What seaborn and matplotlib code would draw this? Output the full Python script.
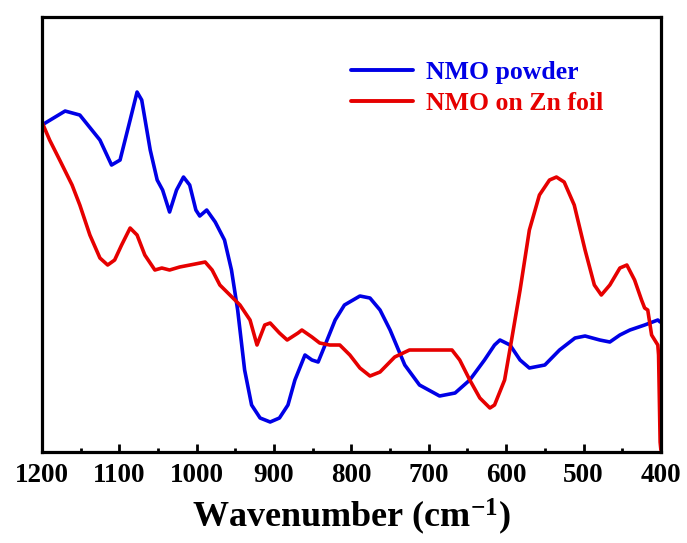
import numpy as np
import pandas as pd
import matplotlib
matplotlib.use("Agg")
import matplotlib.pyplot as plt
import seaborn as sns
from matplotlib.ticker import MultipleLocator

# Wavenumber (cm^-1) and relative transmittance (arbitrary units)
powder_wn = [1200, 1170, 1151, 1125, 1110, 1099, 1086, 1077, 1071, 1060, 1051, 1044, 1035, 1026,
             1017, 1009, 1001, 996, 987, 976, 964, 955, 947, 938, 929, 918, 905, 893, 882, 873,
             860, 851, 843, 834, 821, 809, 789, 776, 763, 750, 731, 712, 686, 666, 647, 628,
             615, 608, 595, 582, 570, 550, 531, 511, 498, 479, 466, 453, 440, 421, 404, 401]
powder_t = [327, 341, 337, 312, 287, 292, 332, 360, 352, 302, 272, 262, 240, 262,
            275, 267, 242, 236, 242, 230, 212, 182, 142, 82, 47, 34, 30, 34, 47, 72,
            97, 92, 90, 107, 132, 147, 156, 154, 142, 122, 87, 67, 56, 59, 72, 92,
            107, 112, 107, 92, 84, 87, 102, 114, 116, 112, 110, 117, 122, 127, 132, 130]

zn_wn = [1200, 1190, 1177, 1161, 1151, 1138, 1125, 1115, 1106, 1097, 1086, 1077, 1067, 1054,
         1045, 1035, 1022, 1002, 989, 980, 970, 957, 944, 931, 922, 912, 905, 893, 883, 869,
         864, 851, 841, 828, 815, 802, 789, 776, 763, 744, 725, 705, 686, 670, 660, 647,
         634, 621, 615, 602, 593, 582, 570, 557, 544, 535, 525, 512, 498, 486, 477, 466,
         453, 444, 434, 425, 421, 417, 412, 408, 404, 403, 401, 400]
zn_t = [330, 312, 292, 267, 247, 217, 194, 187, 192, 207, 224, 217, 197, 182,
        184, 182, 185, 188, 190, 182, 167, 157, 147, 132, 107, 127, 129, 119, 112, 119,
        122, 115, 109, 107, 107, 97, 84, 76, 80, 95, 102, 102, 102, 102, 92, 72,
        54, 44, 47, 72, 112, 162, 222, 257, 272, 275, 270, 247, 202, 167, 157, 167,
        184, 187, 172, 152, 144, 142, 117, 112, 107, 97, 10, 2]

labels = ["NMO powder", "NMO on Zn foil"]
colors = ["#0000e6", "#e60000"]

df = pd.concat([
    pd.DataFrame({"Wavenumber": powder_wn, "T": powder_t, "Sample": labels[0]}),
    pd.DataFrame({"Wavenumber": zn_wn, "T": zn_t, "Sample": labels[1]}),
], ignore_index=True)

sns.set_theme(style="white")
plt.rcParams["font.family"] = ["Liberation Serif", "DejaVu Serif"]
plt.rcParams["font.weight"] = "bold"
plt.rcParams["mathtext.default"] = "regular"
plt.rcParams["text.color"] = "black"
plt.rcParams["axes.labelcolor"] = "black"
plt.rcParams["xtick.color"] = "black"
plt.rcParams["xtick.labelcolor"] = "black"

fig = plt.figure(figsize=(6.87, 5.43), dpi=100)
ax = fig.add_axes([0.061, 0.1676, 0.901, 0.801])

sns.lineplot(data=df, x="Wavenumber", y="T", hue="Sample", sort=False,
             palette=dict(zip(labels, colors)),
             linewidth=2.6, ax=ax, estimator=None)

ax.set_xlim(1200, 400)
ax.set_ylim(0, 435)
ax.set_yticks([])
ax.xaxis.set_major_locator(MultipleLocator(100))
ax.xaxis.set_minor_locator(MultipleLocator(50))
ax.tick_params(axis="x", which="major", direction="in", length=6, width=2,
               labelsize=19.5, pad=8, bottom=True, colors="black")
ax.tick_params(axis="x", which="minor", direction="in", length=3, width=2, bottom=True,
               colors="black")
for lbl in ax.get_xticklabels():
    lbl.set_fontweight("bold")
for s in ax.spines.values():
    s.set_linewidth(2.3)
    s.set_color("black")

ax.set_xlabel("Wavenumber (cm$^{-1}$)", fontsize=26, fontweight="bold", labelpad=6,
              color="black")
ax.set_ylabel("")

leg = ax.legend(loc="upper left", bbox_to_anchor=(0.50, 0.898), frameon=False,
                prop={"size": 18.5, "weight": "bold"}, handlelength=2.4,
                handletextpad=0.5, labelspacing=0.3, borderpad=0, borderaxespad=0)
for h, t, c in zip(leg.get_lines(), leg.get_texts(), colors):
    h.set_linewidth(2.8)
    t.set_color(c)

fig.savefig("out.png", dpi=100)
